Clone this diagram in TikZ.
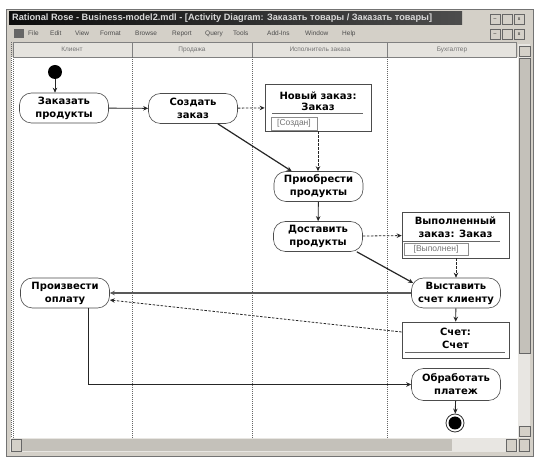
\documentclass[tikz,border=0pt]{standalone}
\usepackage{fontspec}
\setmainfont{Liberation Sans}
\newfontfamily\nodefont{DejaVu Sans}
\usetikzlibrary{arrows.meta}
\definecolor{winbg}{HTML}{D4D0C8}
\definecolor{track}{HTML}{E8E6E2}
\definecolor{thumb}{HTML}{C4C1BA}
\tikzset{
  x=1pt, y=-1pt,
  act/.style={draw=black!70, line width=0.6pt, rounded corners=12pt, fill=white,
    font=\nodefont\bfseries\fontsize{10}{13}\selectfont, align=center, inner sep=0pt,
    minimum width=89pt, minimum height=30pt},
  obj/.style={draw=black!70, line width=0.6pt, fill=white, inner sep=0pt},
  objtxt/.style={font=\nodefont\bfseries\fontsize{10}{13}\selectfont, inner sep=0pt},
  statebox/.style={draw=black!45, line width=0.4pt, inner sep=0pt, text=black!55,
    font=\fontsize{8.5}{9}\selectfont},
  flow/.style={-{Stealth[length=5pt,width=4.5pt]}, line width=0.9pt, black!85},
  dep/.style={flow, dash pattern=on 2.5pt off 1.5pt, line width=0.8pt},
  lane/.style={black!60, line width=0.4pt, dash pattern=on 1pt off 1pt},
  hdr/.style={font=\fontsize{6.5}{7}\selectfont, text=black!55, inner sep=0pt},
  menu/.style={font=\fontsize{6.5}{7}\selectfont, text=black!70, inner sep=0pt, anchor=west},
  btn/.style={draw=black!60, fill=winbg, line width=0.4pt, minimum width=10pt, minimum height=10pt, inner sep=0pt}
}
\begin{document}
\begin{tikzpicture}
\useasboundingbox (0,0) rectangle (539,462);
\fill[white] (0,0) rectangle (539,462);
% window frame
\filldraw[fill=winbg, draw=black!55, line width=0.6pt] (6,9) rectangle (533,456);
% title bar
\shade[left color=black!95, right color=black!70] (9,12) rectangle (462,25);
\node[font=\bfseries\fontsize{9.2}{10}\selectfont, text=white!85!black, anchor=west, inner sep=0pt] (title) at (12,18.5)
  {Rational Rose - Business-model2.mdl - [Activity Diagram: Заказать товары / Заказать товары]};
\node[btn] (b1) at (495,19) {\tiny\_};
\node[btn] (b2) at (507,19) {};
\node[btn] (b3) at (519,19) {\tiny x};
% menu bar
\fill[black!60] (14,29) rectangle (24,38);
\node[menu] (m1) at (28,33.5) {File};
\node[menu] (m2) at (50,33.5) {Edit};
\node[menu] (m3) at (75,33.5) {View};
\node[menu] (m4) at (100,33.5) {Format};
\node[menu] (m5) at (135,33.5) {Browse};
\node[menu] (m6) at (172,33.5) {Report};
\node[menu] (m7) at (205,33.5) {Query};
\node[menu] (m8) at (233,33.5) {Tools};
\node[menu] (m9) at (267,33.5) {Add-Ins};
\node[menu] (m10) at (305,33.5) {Window};
\node[menu] (m11) at (342,33.5) {Help};
\node[btn] (c1) at (495,34) {\tiny\_};
\node[btn] (c2) at (507,34) {};
\node[btn] (c3) at (519,34) {\tiny x};
% diagram area
\fill[white] (11,57) rectangle (518,438);
\draw[lane] (11,42) -- (11,438);
\draw[lane] (13,57) -- (13,438);
% headers
\filldraw[fill=winbg!60, draw=black!50, line width=0.4pt] (13,42) rectangle (132,57);
\filldraw[fill=winbg!60, draw=black!50, line width=0.4pt] (132,42) rectangle (252,57);
\filldraw[fill=winbg!60, draw=black!50, line width=0.4pt] (252,42) rectangle (387,57);
\filldraw[fill=winbg!60, draw=black!50, line width=0.4pt] (387,42) rectangle (516,57);
\node[hdr] (h1) at (72,49.5) {Клиент};
\node[hdr] (h2) at (192,49.5) {Продажа};
\node[hdr] (h3) at (320,49.5) {Исполнитель заказа};
\node[hdr] (h4) at (452,49.5) {Бухгалтер};
% lanes
\draw[lane] (132,57) -- (132,438);
\draw[lane] (252,57) -- (252,438);
\draw[lane] (387,57) -- (387,438);
% vertical scrollbar
\fill[track] (518,44) rectangle (530,438);
\filldraw[fill=thumb, draw=black!60, line width=0.5pt] (519,58) rectangle (530,353);
\node[btn, minimum width=11pt] (vu) at (524.5,51) {};
\node[btn, minimum width=11pt] (vd) at (524.5,431) {};
% horizontal scrollbar
\fill[track] (10,438) rectangle (518,452);
\fill[thumb] (22,439) rectangle (452,451);
\node[btn, minimum height=12pt] (hl) at (16,445) {};
\node[btn, minimum height=12pt] (hr) at (511,445) {};
\node[btn, minimum height=12pt] (hc) at (524,445) {};

% ---------- diagram ----------
\node[circle, fill=black, minimum size=14pt, inner sep=0pt] (st) at (55,72) {};
\node[act] (zp) at (64,108) {Заказать\\продукты};
\node[act] (sz) at (193,108.5) {Создать\\заказ};
\node[obj, minimum width=106pt, minimum height=47pt] (nz) at (318,107.5) {};
\node[objtxt] (nz1) at (318,96) {Новый заказ:};
\node[objtxt] (nz2) at (318,107) {Заказ};
\draw[black!60, line width=0.5pt] (272,113.5) -- (363,113.5);
\node[statebox, minimum width=46pt, minimum height=13pt] (nzs) at (294,123.5) {[Создан]};

\node[act] (pp) at (318.5,186.5) {Приобрести\\продукты};
\node[act] (dp) at (318,236.5) {Доставить\\продукты};

\node[obj, minimum width=107pt, minimum height=46pt] (vz) at (455.5,235) {};
\node[objtxt] (vz1) at (455.5,221) {Выполненный};
\node[objtxt] (vz2) at (455.5,234) {заказ: Заказ};
\draw[black!60, line width=0.5pt] (403,241) -- (500,241);
\node[statebox, minimum width=64pt, minimum height=12pt] (vzs) at (436,249) {[Выполнен]};

\node[act] (vs) at (456,293) {Выставить\\счет клиенту};
\node[obj, minimum width=107pt, minimum height=36pt] (sc) at (455.5,340) {};
\node[objtxt] (sc1) at (455.5,332) {Счет:};
\node[objtxt] (sc2) at (455.5,345) {Счет};
\draw[black!60, line width=0.5pt] (405,352) -- (505,352);

\node[act] (po) at (65,293) {Произвести\\оплату};
\node[act, minimum height=32pt] (ob) at (456,384.5) {Обработать\\платеж};
\node[circle, draw=black!80, line width=0.8pt, minimum size=18pt, inner sep=0pt] (en) at (455,423) {};
\fill[black] (en.center) circle (6.5pt);

% ---------- connectors ----------
\draw[flow] (st) -- (st |- zp.north);
\draw[flow] (zp) -- (sz);
\draw[dep] (sz) -- (nz);
\draw[flow, line width=1.2pt] ([xshift=-20pt]sz.south east) -- ([xshift=18pt]pp.north west);
\draw[dep] (nz.south) -- (nz.south |- pp.north);
\draw[flow] (pp) -- (dp);
\draw[dep] (dp) -- (vz);
\draw[flow, line width=1.2pt] ([xshift=-6pt]dp.south east) -- ([xshift=2pt,yshift=10pt]vs.west);
\draw[dep] (vz.south -| vs.north) -- (vs.north);
\draw[flow, line width=1.4pt, black!65] (vs.west) -- (po.east);
\draw[flow] (vs) -- (sc);
\draw[dep] ([yshift=8pt]sc.west) -- ([yshift=-7pt]po.east);
\draw[flow] ([xshift=23pt]po.south) |- (ob.west);
\draw[flow] (ob) -- (en);
\end{tikzpicture}
\end{document}
